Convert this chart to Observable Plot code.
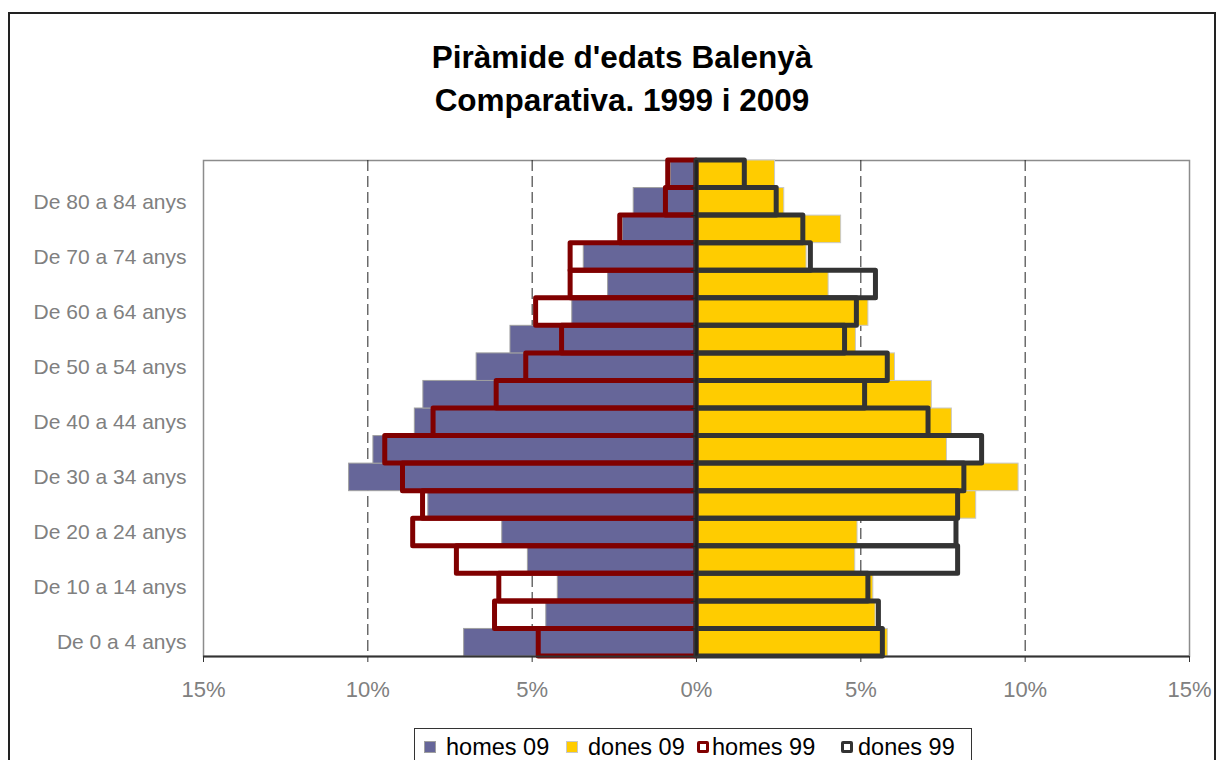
<!DOCTYPE html>
<html>
<head>
<meta charset="utf-8">
<script src="https://cdn.jsdelivr.net/npm/d3@7"></script>
<script src="https://cdn.jsdelivr.net/npm/@observablehq/plot@0.6"></script>
<style>
  html, body { margin: 0; padding: 0; background: #fff; }
  body { font-family: "Liberation Sans", Arial, sans-serif; }
  #wrap { position: relative; width: 1220px; height: 760px; overflow: hidden; }
  #border { position: absolute; left: 8px; top: 12px; width: 1208px; height: 800px; border: 2px solid #222; box-sizing: border-box; }
  #title { position: absolute; left: 272px; width: 700px; top: 36px; text-align: center; font-weight: bold; font-size: 31.5px; line-height: 43px; color: #000; }
  #chart { position: absolute; left: 0; top: 0; }
  #legend { position: absolute; left: 414px; top: 728px; width: 558px; height: 50px; border: 1px solid #333; box-sizing: border-box; background: #fff; }
  .item { position: absolute; top: 5px; height: 26px; display: flex; align-items: center; font-size: 23.5px; color: #000; white-space: nowrap; }
  .sw { width: 12px; height: 12px; box-sizing: border-box; }
</style>
</head>
<body>
<div id="wrap">
  <div id="border"></div>
  <div id="title">Piràmide d'edats Balenyà<br>Comparativa. 1999 i 2009</div>
  <div id="chart"></div>
  <div id="legend"></div>
</div>
<script>
// Age groups, bottom (youngest) to top (oldest)
const ageGroups = [
  "De 0 a 4 anys", "De 5 a 9 anys", "De 10 a 14 anys", "De 15 a 19 anys",
  "De 20 a 24 anys", "De 25 a 29 anys", "De 30 a 34 anys", "De 35 a 39 anys",
  "De 40 a 44 anys", "De 45 a 49 anys", "De 50 a 54 anys", "De 55 a 59 anys",
  "De 60 a 64 anys", "De 65 a 69 anys", "De 70 a 74 anys", "De 75 a 79 anys",
  "De 80 a 84 anys", "De 85 anys i més"
];
// Percent of total population
const homes09 = [7.07, 4.57, 4.22, 5.13, 5.91, 8.16, 10.57, 9.83, 8.57, 8.31, 6.69, 5.66, 3.78, 2.69, 3.43, 2.24, 1.91, 0.78];
const dones09 = [5.82, 5.45, 5.38, 4.83, 4.90, 8.51, 9.80, 7.62, 7.77, 7.16, 6.04, 4.85, 5.23, 4.02, 3.35, 4.40, 2.67, 2.39];
const homes99 = [4.80, 6.13, 6.00, 7.29, 8.62, 8.32, 8.93, 9.47, 8.00, 6.08, 5.18, 4.09, 4.88, 3.83, 3.83, 2.32, 0.93, 0.86];
const dones99 = [5.67, 5.55, 5.23, 7.96, 7.91, 7.96, 8.15, 8.69, 7.06, 5.13, 5.82, 4.52, 4.88, 5.46, 3.48, 3.25, 2.44, 1.47];

const xTicks = [-15, -10, -5, 0, 5, 10, 15];
const gridTicks = [-10, -5, 5, 10];
const yLabels = ageGroups.filter((d, i) => i % 2 === 0 && i < 17);

const seriesNames = ["homes 09", "dones 09", "homes 99", "dones 99"];
const seriesColors = ["#666699", "#FFCC00", "#800000", "#333333"];

const rows = (vals, sign) => ageGroups.map((g, i) => ({group: g, value: sign * vals[i]}));
const h09 = rows(homes09, -1), d09 = rows(dones09, 1), h99 = rows(homes99, -1), d99 = rows(dones99, 1);

const plotTop = 160, plotBottom = 656;
const halfBand = (plotBottom - plotTop) / ageGroups.length / 2;

const font = "'Liberation Sans', Arial, sans-serif";
const plot = Plot.plot({
  width: 1220,
  height: 760,
  marginTop: plotTop,
  marginBottom: 760 - plotBottom,
  marginLeft: 203,
  marginRight: 31,
  style: {fontFamily: font, background: "transparent", overflow: "visible"},
  x: {domain: [-15, 15]},
  y: {domain: ageGroups.slice().reverse(), padding: 0, round: false},
  marks: [
    Plot.frame({stroke: "#8c8c8c", strokeWidth: 1.5}),
    Plot.ruleX(gridTicks, {stroke: "#222", strokeWidth: 1, strokeDasharray: "11,5"}),
    Plot.barX(h09, {x1: 0, x2: "value", y: "group", fill: seriesColors[0], stroke: "#a0a0a0", strokeWidth: 1}),
    Plot.barX(d09, {x1: 0, x2: "value", y: "group", fill: seriesColors[1], stroke: "#c8c8c8", strokeWidth: 1}),
    Plot.barX(h99, {x1: 0, x2: "value", y: "group", fill: "none", stroke: seriesColors[2], strokeWidth: 5, strokeLinejoin: "round"}),
    Plot.barX(d99, {x1: 0, x2: "value", y: "group", fill: "none", stroke: seriesColors[3], strokeWidth: 5, strokeLinejoin: "round"}),
    Plot.ruleX([0], {stroke: "#222", strokeWidth: 2.5}),
    Plot.ruleY(ageGroups, {x1: -0.16, x2: 0, dy: halfBand, stroke: "#222", strokeWidth: 1}),
    Plot.ruleY([ageGroups[0]], {dy: halfBand, stroke: "#333", strokeWidth: 2}),
    Plot.axisX(xTicks, {anchor: "bottom", tickSize: 6, tickPadding: 19, stroke: "#333", fill: "#808080", fontSize: 22, label: null, tickFormat: d => Math.abs(d) + "%"}),
    Plot.axisY(yLabels, {anchor: "left", tickSize: 0, tickPadding: 17, fill: "#808080", fontSize: 21, label: null})
  ]
});
document.getElementById("chart").appendChild(plot);

// Legend
const legend = document.getElementById("legend");
const itemLeft = [9, 151, 282, 426];
seriesNames.forEach((name, i) => {
  const it = document.createElement("div");
  it.className = "item";
  it.style.left = itemLeft[i] + "px";
  const sw = document.createElement("div");
  sw.className = "sw";
  if (i < 2) {
    sw.style.background = seriesColors[i];
    sw.style.border = "1px solid " + (i === 0 ? "#a0a0a0" : "#c8c8c8");
    sw.style.marginRight = "10px";
  } else {
    sw.style.background = "#fff";
    sw.style.border = "3px solid " + seriesColors[i];
    sw.style.borderRadius = "2px";
    sw.style.marginRight = i === 2 ? "3px" : "5px";
  }
  it.appendChild(sw);
  const t = document.createElement("span");
  t.textContent = name;
  it.appendChild(t);
  legend.appendChild(it);
});
</script>
</body>
</html>
